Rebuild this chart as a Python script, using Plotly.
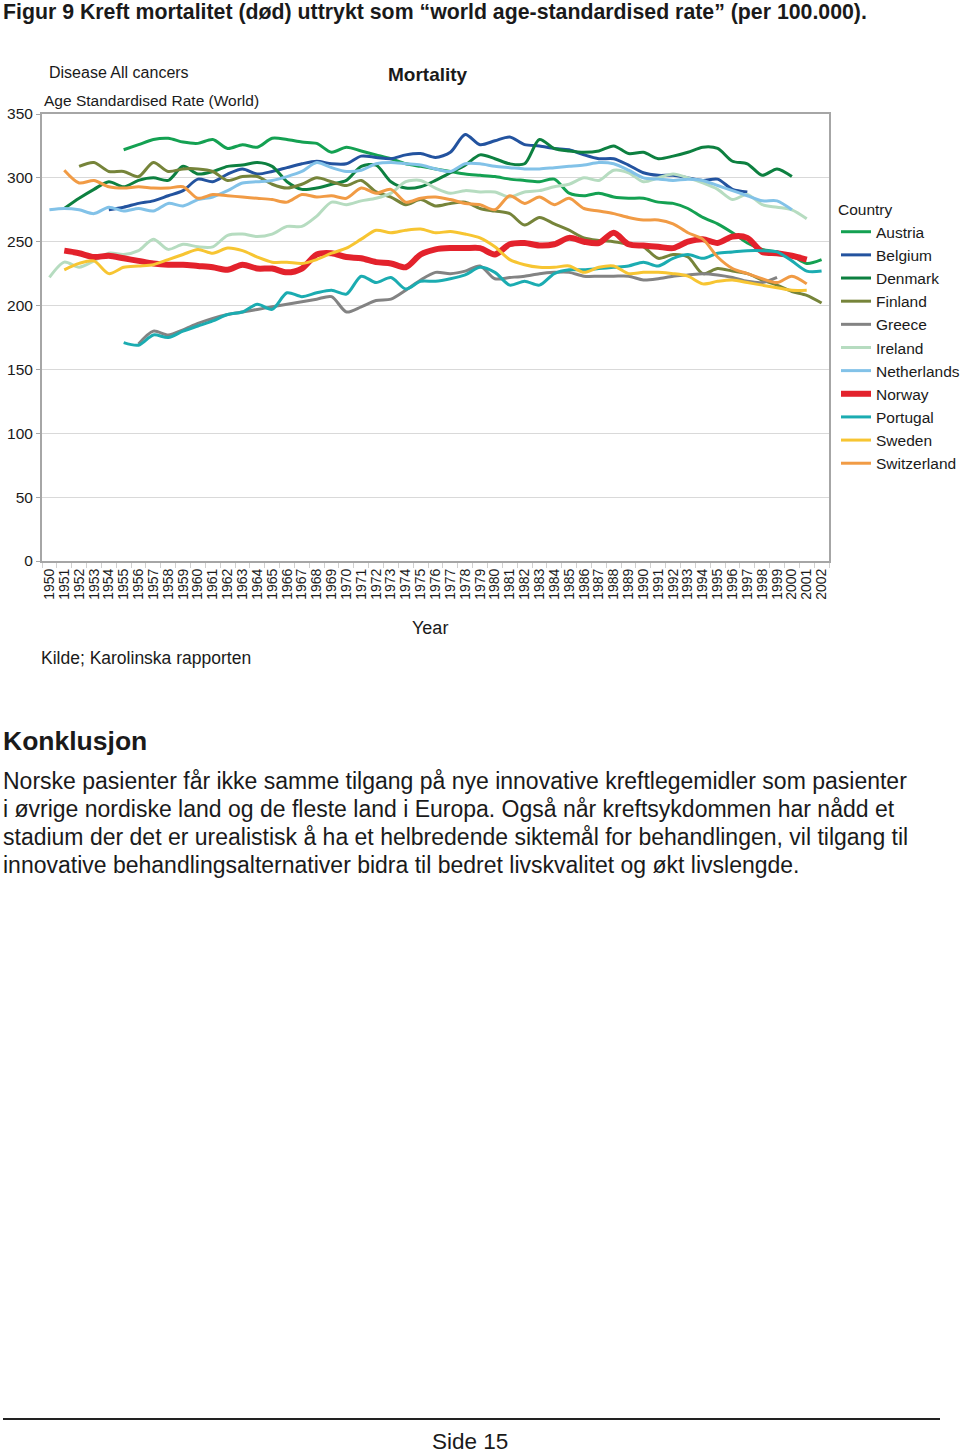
import plotly.graph_objects as go

years = [str(y) for y in range(1950, 2003)]

austria_start = 1955
austria = [322, 326, 330, 331, 328, 327, 330, 323, 326, 324, 331, 330, 328, 327, 320, 324,
           321, 318, 315, 311, 309, 307, 305, 303, 302, 301, 299, 298, 297, 299, 288, 286,
           288, 285, 284, 284, 281, 280, 276, 269, 264, 257, 249, 244, 242, 239, 233, 236]

belgium_start = 1954
belgium = [275, 277, 280, 282, 286, 290, 299, 297, 303, 307, 303, 305, 308, 311, 313, 311,
           311, 317, 316, 315, 318, 319, 316, 320, 334, 326, 329, 332, 326, 325, 323, 322,
           318, 315, 315, 310, 304, 302, 302, 300, 298, 299, 291, 289]

denmark_start = 1951
denmark = [276, 284, 291, 297, 293, 298, 300, 298, 309, 303, 305, 309, 310, 312, 309, 297,
           291, 292, 295, 298, 309, 310, 297, 292, 293, 298, 304, 310, 318, 315, 311, 311,
           330, 323, 321, 320, 321, 325, 319, 320, 315, 317, 320, 324, 323, 313, 311, 302,
           307, 301]

finland_start = 1952
finland = [309, 312, 305, 305, 301, 312, 305, 307, 307, 305, 298, 301, 301, 295, 292, 295,
           300, 297, 294, 298, 289, 285, 279, 283, 278, 280, 281, 276, 274, 272, 263, 269,
           264, 259, 253, 251, 250, 248, 246, 237, 240, 238, 225, 229, 227, 225, 220, 216,
           211, 208, 202]

greece_start = 1956
greece = [170, 180, 177, 181, 186, 190, 193, 195, 197, 199, 201, 203, 205, 207, 195, 199,
          204, 205, 212, 220, 226, 225, 227, 231, 221, 222, 223, 225, 226, 226, 223, 223,
          223, 223, 220, 221, 223, 224, 225, 224, 222, 219, 218, 222]

ireland_start = 1950
ireland = [222, 234, 230, 235, 241, 240, 243, 252, 244, 248, 246, 246, 255, 256, 254, 256,
           262, 262, 270, 281, 279, 282, 284, 288, 297, 298, 292, 288, 290, 289, 289, 285,
           289, 290, 293, 295, 300, 298, 306, 304, 297, 300, 303, 300, 296, 291, 283, 287,
           279, 277, 275, 268]

netherlands_start = 1950
netherlands = [275, 276, 275, 272, 277, 274, 276, 274, 280, 278, 283, 285, 290, 296, 297, 298,
               301, 305, 312, 308, 305, 306, 311, 312, 311, 310, 307, 305, 311, 311, 309, 308,
               307, 307, 308, 309, 310, 312, 311, 306, 300, 299, 298, 299, 298, 294, 290, 286,
               282, 282, 275]

norway_start = 1951
norway = [243, 241, 238, 239, 237, 235, 233, 232, 232, 231, 230, 228, 232, 229, 229, 226,
          229, 240, 241, 238, 237, 234, 233, 230, 240, 244, 245, 245, 245, 240, 248, 249,
          247, 248, 253, 250, 249, 257, 248, 247, 246, 245, 250, 252, 249, 254, 253, 242,
          241, 239, 236]

portugal_start = 1955
portugal = [171, 169, 177, 175, 180, 184, 188, 193, 195, 201, 197, 210, 207, 210, 212, 209,
            223, 218, 222, 213, 219, 219, 221, 224, 230, 226, 216, 219, 216, 225, 228, 228,
            229, 230, 231, 234, 231, 237, 240, 237, 241, 242, 243, 243, 242, 235, 227, 227]

sweden_start = 1951
sweden = [228, 233, 235, 225, 230, 231, 232, 236, 240, 244, 241, 245, 243, 238, 234, 234,
          233, 236, 241, 245, 252, 259, 257, 259, 260, 257, 258, 256, 253, 246, 236, 232,
          230, 230, 231, 226, 230, 231, 225, 226, 226, 225, 223, 217, 219, 220, 218, 216,
          214, 212, 212]

switzerland_start = 1951
switzerland = [306, 296, 298, 293, 292, 293, 292, 292, 293, 284, 287, 286, 285, 284, 283, 281,
               287, 285, 286, 284, 292, 288, 291, 281, 284, 285, 283, 280, 279, 275, 286, 280,
               285, 279, 284, 276, 274, 272, 269, 267, 267, 264, 257, 252, 238, 229, 225, 221,
               218, 223, 217]

y_ticks = [0, 50, 100, 150, 200, 250, 300, 350]

series = [
    ("Austria", austria_start, austria, "#14a152", 3),
    ("Belgium", belgium_start, belgium, "#23539f", 3),
    ("Denmark", denmark_start, denmark, "#0d8040", 3),
    ("Finland", finland_start, finland, "#76843a", 3),
    ("Greece", greece_start, greece, "#838383", 3),
    ("Ireland", ireland_start, ireland, "#b6dcc0", 3),
    ("Netherlands", netherlands_start, netherlands, "#82c2e8", 3),
    ("Norway", norway_start, norway, "#e3222c", 6),
    ("Portugal", portugal_start, portugal, "#1bacb1", 3),
    ("Sweden", sweden_start, sweden, "#f7c532", 3),
    ("Switzerland", switzerland_start, switzerland, "#f19b45", 3),
]

FONT = "Liberation Sans, Arial, sans-serif"
W, H = 960, 1453

fig = go.Figure()
for name, start, vals, color, width in series:
    xs = [str(start + i) for i in range(len(vals))]
    fig.add_trace(go.Scatter(x=xs, y=vals, name=name, mode="lines",
                             line=dict(color=color, width=width, shape="spline", smoothing=0.8)))


def px(x):
    return x / W


def py(y):
    return 1 - y / H


fig.update_layout(
    width=W, height=H, autosize=False,
    margin=dict(l=0, r=0, t=0, b=0, pad=0, autoexpand=False),
    paper_bgcolor="white", plot_bgcolor="white",
    font=dict(family=FONT, size=15, color="#1a1a1a"),
    showlegend=True,
    legend=dict(x=px(836), y=py(195), xanchor="left", yanchor="top",
                title=dict(text="Country", font=dict(size=15.5)),
                font=dict(size=15.5), tracegroupgap=0, itemwidth=30,
                bgcolor="rgba(0,0,0,0)"),
    xaxis=dict(domain=[px(42), px(829)], type="category", categoryorder="array",
               categoryarray=years, range=[-0.5, len(years) - 0.5],
               tickmode="array", tickvals=years, ticktext=years, automargin=False,
               tickangle=-90, tickfont=dict(size=14), ticks="outside", ticklen=5,
               tickcolor="#d0d0d0", tickson="boundaries", showgrid=False,
               showline=True, linecolor="#a6a6a6", linewidth=2, mirror=True,
               zeroline=False, fixedrange=True),
    yaxis=dict(domain=[py(561), py(114)], range=[0, 350], tickvals=y_ticks, automargin=False,
               tickfont=dict(size=15.5), ticks="outside", ticklen=4, tickcolor="#a6a6a6",
               showgrid=True, gridcolor="#d9d9d9", gridwidth=1,
               showline=True, linecolor="#a6a6a6", linewidth=2, mirror=True,
               zeroline=False, fixedrange=True),
)

texts = [
    ("<b>Figur 9 Kreft mortalitet (død) uttrykt som “world age-standardised rate” (per 100.000).</b>",
     1, 12, 21.3, "left"),
    ("Disease All cancers", 47, 72, 16, "left"),
    ("<b>Mortality</b>", 428, 74, 19, "center"),
    ("Age Standardised Rate (World)", 42, 101, 15.5, "left"),
    ("Year", 430, 628, 18, "center"),
    ("Kilde; Karolinska rapporten", 39, 658, 17.5, "left"),
    ("<b>Konklusjon</b>", 1, 741, 26.5, "left"),
    ("Norske pasienter får ikke samme tilgang på nye innovative kreftlegemidler som pasienter", 1, 781, 23, "left"),
    ("i øvrige nordiske land og de fleste land i Europa. Også når kreftsykdommen har nådd et", 1, 809, 23, "left"),
    ("stadium der det er urealistisk å ha et helbredende siktemål for behandlingen, vil tilgang til", 1, 837, 23, "left"),
    ("innovative behandlingsalternativer bidra til bedret livskvalitet og økt livslengde.", 1, 865, 23, "left"),
    ("Side 15", 470, 1441, 22.5, "center"),
]
for t, x, y, s, anchor in texts:
    fig.add_annotation(text=t, x=px(x), y=py(y), xref="paper", yref="paper",
                       xanchor=anchor, yanchor="middle", showarrow=False,
                       font=dict(size=s, family=FONT, color="#1a1a1a"))

fig.add_shape(type="line", xref="paper", yref="paper", x0=px(3), x1=px(940),
              y0=py(1419), y1=py(1419), line=dict(color="#222222", width=2))

fig.write_html("out.html",
               post_script="document.documentElement.style.margin='0';document.body.style.margin='0';",
               config={"displayModeBar": False, "responsive": False})
